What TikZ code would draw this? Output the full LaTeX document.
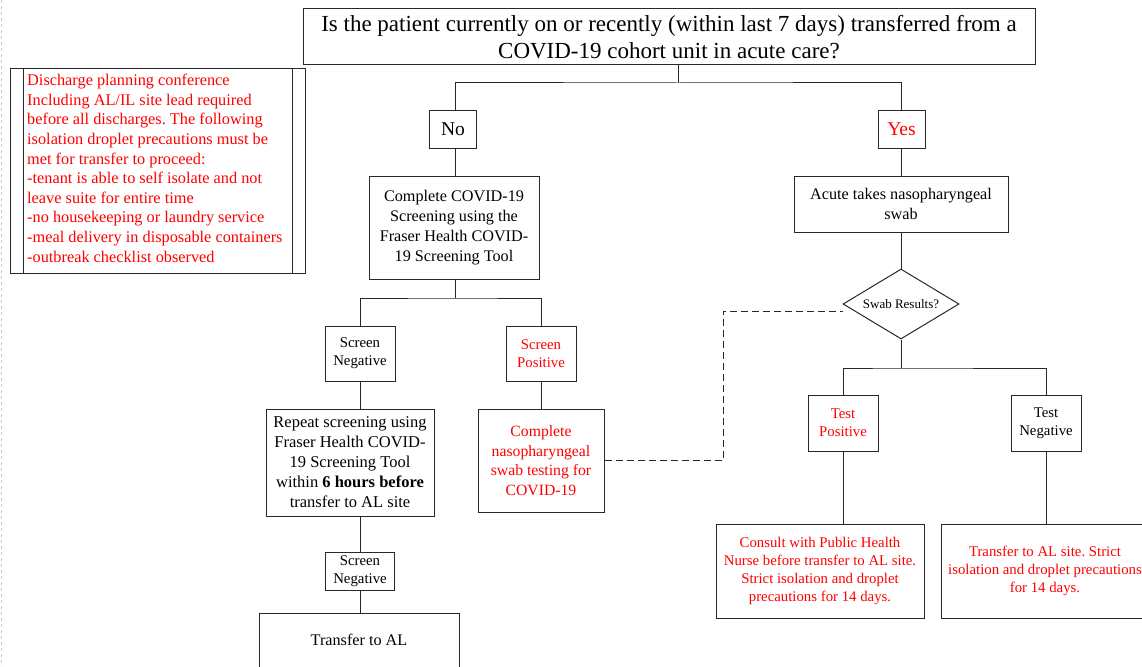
\documentclass[tikz,border=0pt]{standalone}
\usepackage{fontspec}
\setmainfont{Liberation Serif}
\usetikzlibrary{shapes.geometric}
\definecolor{alert}{RGB}{255,0,0}
\definecolor{edge}{RGB}{40,40,40}
\frenchspacing
\begin{document}
\begin{tikzpicture}[x=1pt,y=-1pt,
  box/.style={draw=edge, line width=1pt, align=center, inner sep=2pt},
  link/.style={draw=edge, line width=1pt},
  fq/.style={font=\fontsize{23}{27}\selectfont},
  fyn/.style={font=\fontsize{19.5}{22}\selectfont},
  fmid/.style={font=\fontsize{16.2}{20}\selectfont},
  fsmall/.style={font=\fontsize{14.8}{18}\selectfont},
  ftiny/.style={font=\fontsize{13}{15}\selectfont}]
\useasboundingbox (0,0) rectangle (1142,666);

% page edge guide
\draw[black!20, dash pattern=on 3pt off 3pt] (1,0) -- (1,666);

% question at the top
\node[box, fq, minimum width=732, minimum height=56] (q) at (669,37)
  {Is the patient currently on or recently (within last 7 days) transferred from a\\COVID-19 cohort unit in acute care?};

\node[box, fyn, minimum width=47, minimum height=37] (no) at (453,129.5) {No};
\node[box, fyn, text=alert, minimum width=47, minimum height=37] (yes) at (901.5,129.5) {Yes};

% left branch
\node[box, fmid, minimum width=170, minimum height=103] (screen) at (454,228)
  {Complete COVID-19\\Screening using the\\Fraser Health COVID-\\19 Screening Tool};
\node[box, fsmall, minimum width=70, minimum height=55] (sneg) at (360,353.5) {Screen\\Negative};
\node[box, fsmall, text=alert, minimum width=70, minimum height=55] (spos) at (541,353.5) {Screen\\Positive};
\node[box, font=\fontsize{16.5}{20}\selectfont, minimum width=168, minimum height=107] (repeat) at (350,462.5)
  {Repeat screening using\\Fraser Health COVID-\\19 Screening Tool\\within \textbf{6 hours before}\\transfer to AL site};
\node[box, font=\fontsize{15.7}{19.6}\selectfont, text=alert, minimum width=126, minimum height=103] (naso) at (541,460.5)
  {Complete\\nasopharyngeal\\swab testing for\\COVID-19};
\node[box, fsmall, minimum width=69, minimum height=38] (sneg2) at (360,571) {Screen\\Negative};
\node[box, font=\fontsize{16.2}{20}\selectfont, minimum width=200, minimum height=54] (toal) at (359,640) {Transfer to AL};

% right branch
\node[box, fmid, minimum width=214, minimum height=56] (acute) at (901,204)
  {Acute takes nasopharyngeal\\swab};
\node[draw=edge, line width=1pt, diamond, aspect=1.66, ftiny, inner sep=0pt, minimum width=116, minimum height=70] (swab) at (901,304) {Swab Results?};
\node[box, fsmall, text=alert, minimum width=70, minimum height=56] (tpos) at (843,423) {Test\\Positive};
\node[box, fsmall, minimum width=70, minimum height=56] (tneg) at (1046,423) {Test\\Negative};
\node[box, fsmall, text=alert, minimum width=208, minimum height=94] (consult) at (820,571)
  {Consult with Public Health\\Nurse before transfer to AL site.\\Strict isolation and droplet\\precautions for 14 days.};
\node[box, fsmall, text=alert, minimum width=208, minimum height=94] (tal) at (1045,571)
  {Transfer to AL site. Strict\\isolation and droplet precautions\\for 14 days.};

% note on discharge conditions
\node[draw=edge, line width=1pt, minimum width=295, minimum height=204, inner sep=0pt] (note) at (157.5,171) {};
\draw[link] ([xshift=14pt]note.north west) -- ([xshift=14pt]note.south west);
\draw[link] ([xshift=-13pt]note.north east) -- ([xshift=-13pt]note.south east);
\node[anchor=north west, align=left, inner sep=0pt, text=alert, font=\fontsize{16.3}{19.6}\selectfont] (notetext) at (27,74)
  {Discharge planning conference\\Including AL/IL site lead required\\before all discharges. The following\\isolation droplet precautions must be\\met for transfer to proceed:\\-tenant is able to self isolate and not\\leave suite for entire time\\-no housekeeping or laundry service\\-meal delivery in disposable containers\\-outbreak checklist observed};

% junction points
\coordinate (hubq) at (678,83);
\coordinate (hubs) at (455,298);
\coordinate (hubr) at (901,368);
\coordinate (dturn) at (723,311);
\coordinate (dend) at (843,311);

% connectors
\draw[link] (q.south -| hubq) -- (hubq);
\draw[link] (no.north -| hubs) |- (hubq) -| (yes.north);
\draw[link] (no.south -| hubs) -- (hubs |- screen.north);
\draw[link] (yes.south) -- (yes.south |- acute.north);
\draw[link] (screen.south -| hubs) -- (hubs);
\draw[link] (sneg.north) |- (hubs) -| (spos.north);
\draw[link] (sneg.south) -- (sneg.south |- repeat.north);
\draw[link] (spos.south) -- (naso.north);
\draw[link] (sneg.south |- repeat.south) -- (sneg2.north);
\draw[link] (sneg2.south) -- (sneg2.south |- toal.north);
\draw[link] (acute.south) -- (swab.north);
\draw[link] (swab.south) -- (hubr);
\draw[link] (tpos.north) |- (hubr) -| (tneg.north);
\draw[link] (tpos.south) -- (tpos.south |- consult.north);
\draw[link] (tneg.south) -- (tneg.south |- tal.north);
\draw[link, dash pattern=on 7pt off 4pt] (naso.east) -| (dturn) -- (dend);
\end{tikzpicture}
\end{document}
